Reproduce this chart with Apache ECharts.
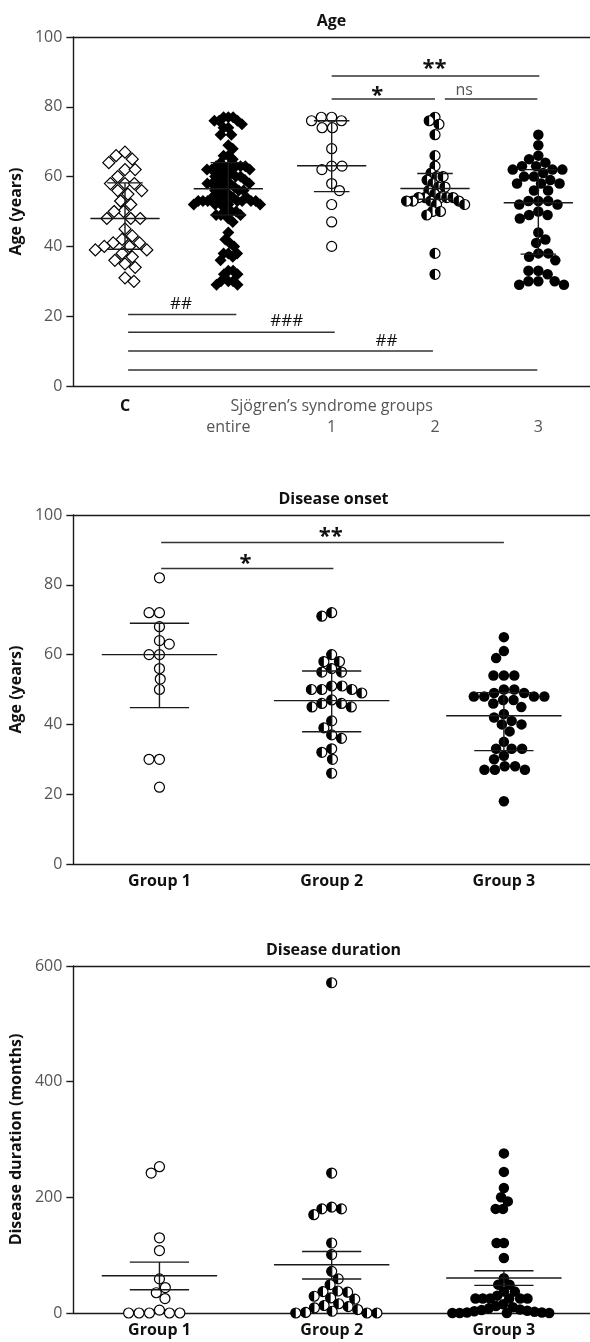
<!DOCTYPE html>
<html><head><meta charset="utf-8">
<script src="https://cdn.jsdelivr.net/npm/echarts@6/dist/echarts.min.js"></script>
<style>html,body{margin:0;padding:0;background:#fff}#c{width:590px;height:1342px}</style>
</head><body><div id="c"></div><script>
// ---------- DATA ----------
// Panel 1: Age
const ageCategories = ['C', 'entire', '1', '2', '3'];
const ageGroupTitle = 'Sjögren’s syndrome groups';
const ageTicks = [0, 20, 40, 60, 80, 100];
const ageControl = [67,66,65,64,62,62,60,58,58,58,56,56,55,53,52,50,50,48,48,48,45,43,42,41,41,40,40,39,39,38,37,36,35,34,31,30];
const ageGroup1 = [77,77,76,76,74,74,68,63,63,62,58,56,52,47,40];
const ageGroup2 = [77,76,75,72,66,63,61,60,60,59,58,57,57,56,55,54,54,54,54,54,53,53,53,53,52,52,50,50,49,38,32];
const ageGroup3 = [72,69,66,65,64,63,63,62,62,62,61,60,60,59,58,58,58,56,56,53,53,53,52,52,50,49,49,48,44,42,41,38,38,37,36,33,33,32,30,30,30,29,29];
const ageEntire = ageGroup1.concat(ageGroup2, ageGroup3); // entire SS cohort = groups 1-3
const ageMedian = [48, 56.5, 63.1, 56.6, 52.5];
const ageQ1 = [39.2, 49, 55.7, 53.5, 37.8];
const ageQ3 = [58.2, 64, 76, 60.9, 62];
const ageSigLines = [[2, 3, 82.2], [2, 4.01, 88.8], [3.095, 3.99, 82.2],
                     [0.03, 1.077, 20.5], [0.03, 2.03, 15.4], [0.03, 2.98, 10], [0.03, 3.99, 4.6]];
const ageSigLabels = [[2.44, 84.2, '*'], [2.995, 92, '**'], [3.283, 84.6, 'ns'],
                      [0.542, 23.5, '##'], [1.565, 18.6, '###'], [2.53, 12.9, '##']];

// Panel 2: Disease onset
const onsetCategories = ['Group 1', 'Group 2', 'Group 3'];
const onsetTicks = [0, 20, 40, 60, 80, 100];
const onsetGroup1 = [82,72,72,68,64,63,60,60,56,53,50,30,30,22];
const onsetGroup2 = [72,71,60,58,58,56,55,55,51,51,50,50,50,49,47,46,46,45,45,41,39,37,36,33,32,30,26];
const onsetGroup3 = [65,61,59,54,54,54,50,50,49,49,48,48,48,48,47,47,46,45,43,42,41,40,40,38,35,33,33,33,31,30,28,28,27,27,27,18];
const onsetMedian = [60, 46.8, 42.5];
const onsetQ1 = [44.8, 37.9, 32.5];
const onsetQ3 = [69, 55.3, 49.1];
const onsetSigLines = [[0.01, 2.0, 92.1], [0.01, 1.01, 84.7]];
const onsetSigLabels = [[0.995, 94.9, '**'], [0.5, 87.1, '*']];

// Panel 3: Disease duration
const durCategories = ['Group 1', 'Group 2', 'Group 3'];
const durTicks = [0, 200, 400, 600];
const durGroup1 = [253,242,130,108,59,44,35,25,5,0,0,0,0,0];
const durGroup2 = [571,242,183,180,180,170,121,101,72,59,49,38,37,36,29,26,24,16,13,11,9,6,3,1,0,0,0];
const durGroup3 = [276,244,216,200,193,180,180,121,121,95,60,49,49,37,37,30,25,25,25,25,25,25,15,12,10,8,6,5,4,3,2,1,1,0,0,0,0];
const durMean = [64.4, 83.4, 60.4];
const durLow = [40.3, 58.7, 47.7];
const durHigh = [88, 106.4, 73];

// ---------- LAYOUT ----------
const FONT = '"Open Sans", "Noto Sans", sans-serif';
const INK = '#1a1a1a';
const panels = [
  {grid: {left: 70, top: 37, width: 523, height: 349}, n: 5, ticks: ageTicks, title: 'Age', yName: 'Age (years)', nameGap: 36},
  {grid: {left: 73, top: 515, width: 521, height: 349}, n: 3, ticks: onsetTicks, title: 'Disease onset', yName: 'Age (years)', nameGap: 42},
  {grid: {left: 73, top: 966, width: 521, height: 347}, n: 3, ticks: durTicks, title: 'Disease duration', yName: 'Disease duration (months)', nameGap: 42}
];

// beeswarm placement in pixel space; spread is squeezed to maxHalf px if wider
function swarm(values, diam, yPx, maxHalf) {
  const order = values.map((v, i) => i).sort((a, b) => values[b] - values[a]);
  const placed = [], off = new Array(values.length);
  let flip = 1;
  for (const i of order) {
    const y = values[i] * yPx;
    const iv = [];
    for (const p of placed) {
      const dy = Math.abs(p.y - y);
      if (dy < diam) { const dx = Math.sqrt(diam * diam - dy * dy); iv.push([p.x - dx, p.x + dx]); }
    }
    const cands = [0];
    iv.forEach(([a, b]) => cands.push(a, b));
    cands.sort((a, b) => (Math.abs(a) - Math.abs(b)) || flip * (a - b));
    let chosen = 0;
    for (const c of cands) {
      if (iv.every(([a, b]) => c <= a + 1e-6 || c >= b - 1e-6)) { chosen = c; break; }
    }
    if (chosen !== 0) flip = -flip;
    placed.push({x: chosen, y}); off[i] = chosen;
  }
  const m = Math.max(...off.map(Math.abs));
  const s = maxHalf && m > maxHalf ? maxHalf / m : 1;
  return off.map(o => o * s);
}
function pts(panelIdx, values, ci, diam, maxHalf) {
  const P = panels[panelIdx];
  const yMax = P.ticks[P.ticks.length - 1];
  const yPx = P.grid.height / yMax, band = P.grid.width / P.n;
  const off = swarm(values, diam, yPx, maxHalf);
  return values.map((v, i) => [ci + off[i] / band, v]);
}

const grid = [], xAxis = [], yAxis = [], series = [], graphic = [];
panels.forEach((P, k) => {
  grid.push(Object.assign({}, P.grid));
  const cats = [ageCategories, onsetCategories, durCategories][k];
  xAxis.push({
    type: 'category', gridIndex: k, data: cats, boundaryGap: true,
    axisLine: {onZero: false, lineStyle: {color: INK, width: 1.4}},
    axisTick: {alignWithLabel: true, length: 6, lineStyle: {color: INK, width: 1.4}},
    axisLabel: k === 0 ? {
      interval: 0, margin: 10,
      formatter: (v, i) => i === 0 ? '{c|' + v + '}' : (i === 2 ? '{t|' + ageGroupTitle + '}\n{n|' + v + '}' : '{e| }\n{n|' + v + '}'),
      rich: {
        c: {fontFamily: FONT, fontWeight: 'bold', fontSize: 16, color: '#111', lineHeight: 21},
        t: {fontFamily: FONT, fontSize: 16, color: '#555', lineHeight: 21},
        n: {fontFamily: FONT, fontSize: 16, color: '#555', lineHeight: 21},
        e: {fontFamily: FONT, fontSize: 16, lineHeight: 21}
      }
    } : {interval: 0, margin: 9, fontFamily: FONT, fontWeight: 'bold', fontSize: 16, color: '#111'},
    splitLine: {show: false}
  });
  xAxis.push({
    type: 'value', gridIndex: k, min: -0.5, max: P.n - 0.5, position: 'top',
    axisLine: {show: true, onZero: false, lineStyle: {color: INK, width: 1.4}},
    axisTick: {show: false}, axisLabel: {show: false}, splitLine: {show: false}
  });
  const yMax = P.ticks[P.ticks.length - 1];
  yAxis.push({
    type: 'value', gridIndex: k, min: 0, max: yMax, interval: P.ticks[1] - P.ticks[0],
    name: P.yName, nameLocation: 'middle', nameGap: P.nameGap,
    nameTextStyle: {fontFamily: FONT, fontWeight: 'bold', fontSize: 16, color: '#111'},
    axisLine: {show: true, onZero: false, lineStyle: {color: INK, width: 1.4}},
    axisTick: {show: true, length: 7, lineStyle: {color: INK, width: 1.4}},
    axisLabel: {fontFamily: FONT, fontSize: 16, color: '#555', margin: 11},
    splitLine: {show: false}
  });
  graphic.push({
    type: 'text', x: P.grid.left + P.grid.width / 2, y: P.grid.top - 16,
    style: {text: P.title, font: 'bold 16px ' + FONT, fill: '#111', textAlign: 'center', textVerticalAlign: 'middle'}
  });
});

function scatter(k, data, symbol, size, filled) {
  return {type: 'scatter', xAxisIndex: 2 * k + 1, yAxisIndex: k, data, symbol, symbolSize: size, clip: false, z: 2,
    itemStyle: {color: filled ? '#000' : '#fff', borderColor: '#000', borderWidth: filled ? 0 : 1.2, opacity: 1},
    emphasis: {disabled: true}};
}
function halfCircles(k, data, r) {
  return {type: 'custom', xAxisIndex: 2 * k + 1, yAxisIndex: k, data, z: 2, clip: false,
    renderItem: (params, api) => {
      const p = api.coord([api.value(0), api.value(1)]);
      return {type: 'group', children: [
        {type: 'circle', shape: {cx: p[0], cy: p[1], r: r}, style: {fill: '#fff', stroke: '#000', lineWidth: 1.2}},
        {type: 'sector', shape: {cx: p[0], cy: p[1], r0: 0, r: r, startAngle: Math.PI / 2, endAngle: Math.PI * 1.5, clockwise: true}, style: {fill: '#000'}}
      ]};
    }};
}
function errorBars(k, center, lo, hi) {
  const data = center.map((m, i) => [i, m, lo[i], hi[i]]);
  return {type: 'custom', xAxisIndex: 2 * k + 1, yAxisIndex: k, data, z: 4, clip: false,
    renderItem: (params, api) => {
      const c = api.value(0);
      const band = api.size([1, 0])[0];
      const pm = api.coord([c, api.value(1)]), pl = api.coord([c, api.value(2)]), ph = api.coord([c, api.value(3)]);
      const w1 = band * 0.335, w2 = band * 0.172;
      const st = {stroke: INK, lineWidth: 1.4};
      return {type: 'group', children: [
        {type: 'line', shape: {x1: pm[0] - w1, y1: pm[1], x2: pm[0] + w1, y2: pm[1]}, style: st},
        {type: 'line', shape: {x1: ph[0] - w2, y1: ph[1], x2: ph[0] + w2, y2: ph[1]}, style: st},
        {type: 'line', shape: {x1: pl[0] - w2, y1: pl[1], x2: pl[0] + w2, y2: pl[1]}, style: st},
        {type: 'line', shape: {x1: pm[0], y1: ph[1], x2: pm[0], y2: pl[1]}, style: st}
      ]};
    }};
}
function sigLines(k, lines) {
  return {type: 'custom', xAxisIndex: 2 * k + 1, yAxisIndex: k, data: lines, z: 4, clip: false,
    renderItem: (params, api) => {
      const a = api.coord([api.value(0), api.value(2)]), b = api.coord([api.value(1), api.value(2)]);
      return {type: 'line', shape: {x1: a[0], y1: a[1], x2: b[0], y2: b[1]}, style: {stroke: '#333', lineWidth: 1.5}};
    }};
}
function sigLabels(k, labels) {
  return {type: 'custom', xAxisIndex: 2 * k + 1, yAxisIndex: k, data: labels.map(l => [l[0], l[1]]), z: 5, clip: false,
    renderItem: (params, api) => {
      const p = api.coord([api.value(0), api.value(1)]);
      const t = labels[params.dataIndex][2];
      let font, fill = '#111', dy = 0;
      if (t.indexOf('*') >= 0) { font = 'bold 22px ' + FONT; dy = 4; }
      else if (t === 'ns') { font = '16px ' + FONT; fill = '#555'; }
      else { font = '17px ' + FONT; }
      return {type: 'text', x: p[0], y: p[1] + dy, style: {text: t, font, fill, textAlign: 'center', textVerticalAlign: 'middle'}};
    }};
}

// Panel 1
series.push(scatter(0, pts(0, ageControl, 0, 11, 30), 'diamond', 12, false));
series.push(scatter(0, pts(0, ageEntire, 1, 9, 35), 'diamond', 12, true));
series.push(scatter(0, pts(0, ageGroup1, 2, 10.5, 30), 'circle', 10, false));
series.push(halfCircles(0, pts(0, ageGroup2, 3, 9, 30), 5));
series.push(scatter(0, pts(0, ageGroup3, 4, 10, 32), 'circle', 10.5, true));
series.push(errorBars(0, ageMedian, ageQ1, ageQ3));
series.push(sigLines(0, ageSigLines));
series.push(sigLabels(0, ageSigLabels));
// Panel 2
series.push(scatter(1, pts(1, onsetGroup1, 0, 10.5, 40), 'circle', 10, false));
series.push(halfCircles(1, pts(1, onsetGroup2, 1, 10.5, 40), 5));
series.push(scatter(1, pts(1, onsetGroup3, 2, 10.5, 50), 'circle', 10.5, true));
series.push(errorBars(1, onsetMedian, onsetQ1, onsetQ3));
series.push(sigLines(1, onsetSigLines));
series.push(sigLabels(1, onsetSigLabels));
// Panel 3
series.push(scatter(2, pts(2, durGroup1, 0, 10.5, 48), 'circle', 10, false));
series.push(halfCircles(2, pts(2, durGroup2, 1, 10, 50), 5));
series.push(scatter(2, pts(2, durGroup3, 2, 10, 52), 'circle', 10.5, true));
series.push(errorBars(2, durMean, durLow, durHigh));

const chart = echarts.init(document.getElementById('c'), null, {renderer: 'canvas'});
chart.setOption({animation: false, backgroundColor: '#fff', grid, xAxis, yAxis, series, graphic});
</script></body></html>
